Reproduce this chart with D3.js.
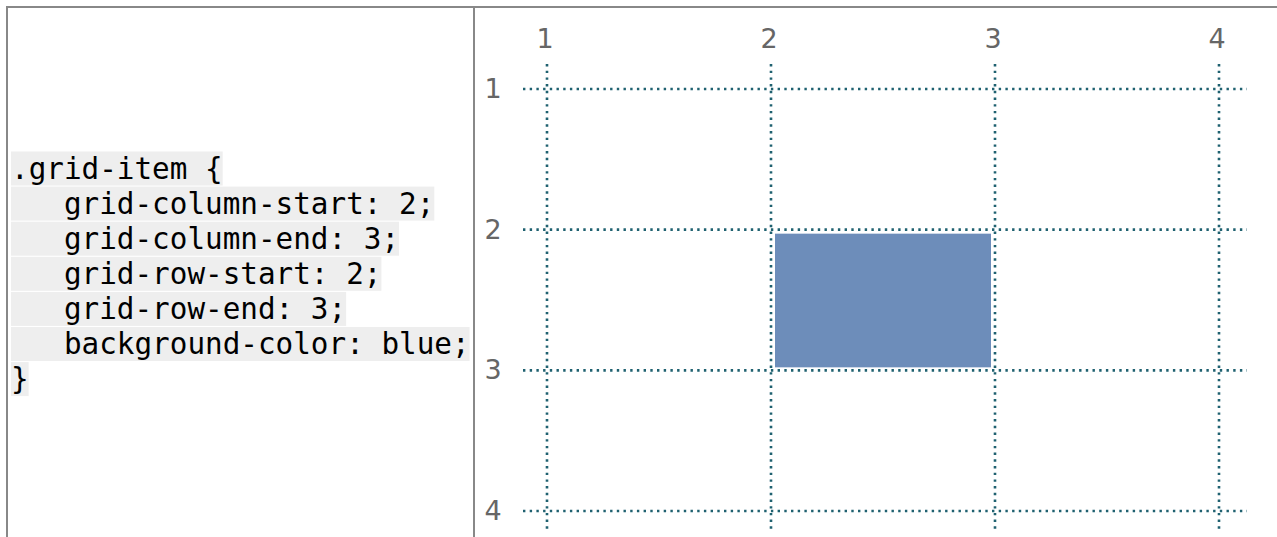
<!DOCTYPE html>
<html>
<head>
<meta charset="utf-8">
<script src="https://cdn.jsdelivr.net/npm/d3@7"></script>
<style>
  html, body { margin: 0; padding: 0; background: #fff; }
  svg { display: block; }
</style>
</head>
<body>
<svg id="chart" width="1277" height="537"></svg>
<script>
var codeLines = [
	".grid-item {",
	"   grid-column-start: 2;",
	"   grid-column-end: 3;",
	"   grid-row-start: 2;",
	"   grid-row-end: 3;",
	"   background-color: blue;",
	"}"
];
var columnLines = [1, 2, 3, 4];
var rowLines = [1, 2, 3, 4];
var items = [
	{ colStart: 2, colEnd: 3, rowStart: 2, rowEnd: 3, color: "#6d8dba" }
];

var svg = d3.select("#chart");

var x_scale = d3.scaleLinear().domain([1, 4]).range([547, 1219]);
var y_scale = d3.scaleLinear().domain([1, 4]).range([89, 511]);

// Table borders
svg.append("line").attr("x1", 6).attr("x2", 1277).attr("y1", 7).attr("y2", 7)
	.attr("stroke", "#888").attr("stroke-width", 2);
svg.append("line").attr("x1", 7).attr("x2", 7).attr("y1", 6).attr("y2", 537)
	.attr("stroke", "#888").attr("stroke-width", 2);
svg.append("line").attr("x1", 474).attr("x2", 474).attr("y1", 6).attr("y2", 537)
	.attr("stroke", "#888").attr("stroke-width", 2);

// Code block
var fontSize = 29.3, charW = 0.602 * fontSize, lineH = 35.1, codeTop = 151.5;
var code = svg.append("g");
code.selectAll("rect")
	.data(codeLines)
	.enter()
		.append("rect")
		.attr("x", 11)
		.attr("y", function(d, i){ return codeTop + i * lineH; })
		.attr("width", function(d){ return d.length * charW; })
		.attr("height", 34)
		.attr("fill", "#eeeeee");
code.selectAll("text")
	.data(codeLines)
	.enter()
		.append("text")
		.attr("x", 11)
		.attr("y", function(d, i){ return codeTop + 27 + i * lineH; })
		.attr("font-family", "DejaVu Sans Mono")
		.attr("font-size", fontSize)
		.attr("fill", "#000")
		.attr("xml:space", "preserve")
		.style("white-space", "pre")
		.text(function(d){ return d; });

// Grid item
svg.append("g")
	.selectAll("rect")
	.data(items)
	.enter()
		.append("rect")
		.attr("x", function(d){ return x_scale(d.colStart) + 4; })
		.attr("y", function(d){ return y_scale(d.rowStart) + 4; })
		.attr("width", function(d){ return x_scale(d.colEnd) - x_scale(d.colStart) - 8; })
		.attr("height", function(d){ return y_scale(d.rowEnd) - y_scale(d.rowStart) - 7; })
		.attr("fill", function(d){ return d.color; });

// Grid lines
var gridColor = "#1f6170";
svg.append("g")
	.selectAll("line")
	.data(columnLines)
	.enter()
		.append("line")
		.attr("x1", x_scale).attr("x2", x_scale)
		.attr("y1", 64).attr("y2", 531)
		.attr("stroke", gridColor)
		.attr("stroke-width", 2.6)
		.attr("stroke-dasharray", "2.4 4.3");
svg.append("g")
	.selectAll("line")
	.data(rowLines)
	.enter()
		.append("line")
		.attr("x1", 523).attr("x2", 1247)
		.attr("y1", y_scale).attr("y2", y_scale)
		.attr("stroke", gridColor)
		.attr("stroke-width", 2.6)
		.attr("stroke-dasharray", "2.4 4.3");

// Line number labels
svg.append("g")
	.selectAll("text")
	.data(columnLines)
	.enter()
		.append("text")
		.attr("x", function(d){ return x_scale(d) - 2; })
		.attr("y", 48)
		.attr("text-anchor", "middle")
		.attr("font-family", "DejaVu Sans")
		.attr("font-size", 27)
		.attr("fill", "#666")
		.text(function(d){ return d; });
svg.append("g")
	.selectAll("text")
	.data(rowLines)
	.enter()
		.append("text")
		.attr("x", 493)
		.attr("y", function(d){ return y_scale(d) + 9; })
		.attr("text-anchor", "middle")
		.attr("font-family", "DejaVu Sans")
		.attr("font-size", 27)
		.attr("fill", "#666")
		.text(function(d){ return d; });
</script>
</body>
</html>
